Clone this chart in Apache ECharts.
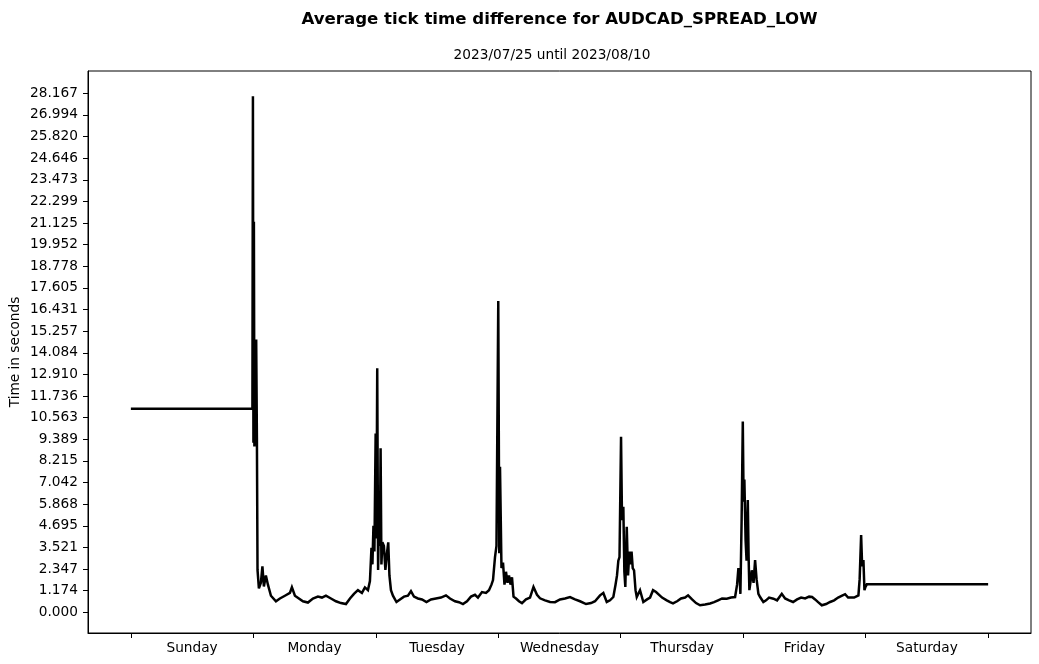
<!DOCTYPE html>
<html>
<head>
<meta charset="utf-8">
<script src="https://cdn.jsdelivr.net/npm/echarts@6/dist/echarts.min.js"></script>
<style>html,body{margin:0;padding:0;background:#fff}#c{width:1039px;height:664px}</style>
</head>
<body>
<div id="c"></div>
<script>
const chartTitle = 'Average tick time difference for AUDCAD_SPREAD_LOW';
const chartSubtitle = '2023/07/25 until 2023/08/10';
const dayNames = ['Sunday','Monday','Tuesday','Wednesday','Thursday','Friday','Saturday'];
const dayBoundaryHours = [0,24,48,72,96,120,144,168];
const dayCenterHours = [12,36,60,84,108,132,156];
const yTickLabels = ['0.000','1.174','2.347','3.521','4.695','5.868','7.042','8.215','9.389','10.563','11.736','12.910','14.084','15.257','16.431','17.605','18.778','19.952','21.125','22.299','23.473','24.646','25.820','26.994','28.167'];

// hour of week (Sunday 00:00 = 0)
const hourOfWeek = [
  0, 23.82, 23.92, 24.02, 24.11, 24.21, 24.31, 24.40, 24.56, 24.70, 24.82,
  25.09, 25.48, 25.78, 26.07, 26.46, 26.86, 27.45, 28.43, 29.21, 30.19,
  31.17, 31.56, 32.15, 32.93, 33.72, 34.70, 35.68, 36.66, 37.44, 38.23,
  39.21, 40.19, 41.17, 42.15, 42.94, 43.72, 44.50, 45.28, 45.87, 46.46,
  46.85, 47.15, 47.34, 47.54, 47.73, 47.97, 48.12, 48.28, 48.45, 48.61,
  48.80, 48.94, 49.10, 49.29, 49.59, 49.88, 50.18, 50.44, 50.67, 50.97,
  51.36, 52.05, 52.74, 53.52, 54.30, 54.89, 55.48, 56.26, 57.05, 57.93,
  58.81, 59.79, 60.77, 61.75, 62.54, 63.52, 64.30, 65.08, 65.87, 66.65,
  67.44, 68.02, 68.81, 69.59, 70.18, 70.67, 70.97, 71.36, 71.65, 72.00,
  72.20, 72.34, 72.63, 72.93, 73.22, 73.51, 73.81, 74.10, 74.40, 74.69,
  74.99, 75.48, 76.06, 76.65, 77.43, 78.22, 78.90, 79.59, 80.18, 81.16,
  82.14, 83.12, 84.10, 85.08, 86.06, 87.04, 88.02, 89.20, 90.18, 90.96,
  91.94, 92.59, 93.26, 93.90, 94.55, 94.98, 95.27, 95.53, 95.76, 96.06,
  96.25, 96.51, 96.71, 96.90, 97.18, 97.43, 97.69, 97.92, 98.12, 98.35,
  98.61, 98.90, 99.14, 99.78, 100.43, 101.16, 101.75, 102.33, 102.92, 103.31,
  104.10, 105.02, 105.67, 106.25, 107.04, 107.82, 108.61, 109.20, 109.98, 110.76,
  111.55, 112.53, 113.51, 114.29, 115.08, 115.86, 116.78, 117.62, 118.41, 118.80,
  119.06, 119.29, 119.45, 119.69, 119.92, 120.08, 120.23, 120.47, 120.66, 120.90,
  121.06, 121.21, 121.45, 121.68, 122.03, 122.33, 122.62, 122.98, 123.31, 123.95,
  124.48, 125.07, 125.92, 126.64, 127.56, 128.21, 128.99, 129.78, 130.56, 131.35,
  132.13, 132.92, 133.50, 134.09, 134.68, 135.40, 136.25, 137.03, 137.82, 138.60,
  139.38, 139.97, 140.56, 140.95, 141.74, 142.58, 142.82, 143.11, 143.31, 143.56,
  143.76, 143.96, 144.23, 168
];
// average tick time difference in seconds
const avgTickSeconds = [
  11.05, 11.05, 28.0, 9.2, 21.2, 9.0, 14.0, 9.1, 14.8, 9.5, 2.3,
  1.3, 1.6, 2.5, 1.4, 2.0, 1.5, 0.9, 0.6, 0.75, 0.9,
  1.05, 1.36, 0.9, 0.75, 0.6, 0.53, 0.75, 0.85, 0.8, 0.9,
  0.75, 0.6, 0.5, 0.45, 0.75, 1.0, 1.2, 1.05, 1.35, 1.2,
  1.7, 3.5, 2.6, 4.7, 3.3, 9.7, 4.0, 13.25, 2.3, 5.0,
  3.6, 8.9, 2.6, 3.8, 3.6, 2.3, 3.2, 3.8, 2.0, 1.2,
  0.9, 0.56, 0.7, 0.85, 0.9, 1.15, 0.85, 0.75, 0.7, 0.56,
  0.7, 0.75, 0.8, 0.92, 0.75, 0.6, 0.55, 0.45, 0.6, 0.85,
  0.95, 0.8, 1.1, 1.05, 1.2, 1.5, 1.75, 3.0, 3.6, 16.9,
  3.2, 7.9, 2.4, 2.7, 1.5, 2.2, 1.6, 2.0, 1.5, 1.9,
  0.85, 0.75, 0.6, 0.5, 0.7, 0.8, 1.38, 0.95, 0.76, 0.65,
  0.56, 0.55, 0.7, 0.75, 0.83, 0.7, 0.6, 0.45, 0.5, 0.6,
  0.92, 1.05, 0.56, 0.65, 0.83, 1.5, 2.0, 2.8, 3.0, 9.53,
  5.0, 5.73, 2.2, 1.38, 4.64, 2.0, 3.3, 2.6, 3.3, 2.4,
  2.28, 1.2, 0.83, 1.2, 0.56, 0.7, 0.8, 1.2, 1.1, 1.0,
  0.8, 0.65, 0.55, 0.48, 0.6, 0.75, 0.8, 0.92, 0.7, 0.5,
  0.38, 0.42, 0.48, 0.55, 0.65, 0.75, 0.74, 0.8, 0.83, 1.5,
  2.4, 2.0, 1.0, 5.0, 10.35, 6.0, 7.2, 3.9, 2.8, 6.1,
  3.0, 1.2, 1.7, 2.28, 1.6, 2.83, 1.8, 1.0, 0.83, 0.56,
  0.65, 0.8, 0.74, 0.65, 1.0, 0.75, 0.65, 0.56, 0.7, 0.8,
  0.75, 0.85, 0.83, 0.7, 0.55, 0.38, 0.45, 0.56, 0.65, 0.8,
  0.9, 0.98, 0.8, 0.74, 0.8, 0.92, 1.8, 4.19, 2.5, 2.83,
  1.2, 1.38, 1.52, 1.52
];

const yTickValues = yTickLabels.map(Number);
const seriesData = hourOfWeek.map((h, i) => [h, avgTickSeconds[i]]);
const FONT = 'DejaVu Sans';

const chart = echarts.init(document.getElementById('c'), null, {renderer: 'canvas'});
chart.setOption({
  animation: false,
  backgroundColor: '#ffffff',
  textStyle: {fontFamily: FONT},
  title: [
    {text: chartTitle, left: 554.5, top: 5, textAlign: 'center', textStyle: {fontFamily: FONT, fontSize: 16.6, fontWeight: 'bold', color: '#000', lineHeight: 20}},
    {text: chartSubtitle, left: 547, top: 42, textAlign: 'center', textStyle: {fontFamily: FONT, fontSize: 13.7, fontWeight: 'normal', color: '#000', lineHeight: 16}}
  ],
  grid: {left: 88, right: 8, top: 71, bottom: 31, show: true, borderColor: '#000', borderWidth: 1, backgroundColor: 'transparent', outerBoundsMode: 'none', containLabel: false},
  xAxis: {
    type: 'value', min: -8.4, max: 176.4,
    axisLine: {show: true, onZero: false, lineStyle: {color: '#000', width: 1}},
    axisTick: {show: true, inside: false, length: 5, lineStyle: {color: '#000', width: 1}, customValues: dayBoundaryHours},
    axisLabel: {show: true, margin: 8, fontFamily: FONT, fontSize: 13.7, color: '#000', customValues: dayCenterHours,
      formatter: v => dayNames[Math.round((v - 12) / 24)] || ''},
    splitLine: {show: false}
  },
  yAxis: {
    type: 'value', min: -1.123, max: 29.377,
    name: 'Time in seconds', nameLocation: 'middle', nameRotate: 90, nameGap: 66, nameMoveOverlap: false,
    nameTextStyle: {fontFamily: FONT, fontSize: 13.7, color: '#000'},
    axisLine: {show: true, onZero: false, lineStyle: {color: '#000', width: 1}},
    axisTick: {show: true, inside: false, length: 5, lineStyle: {color: '#000', width: 1}, customValues: yTickValues},
    axisLabel: {show: true, margin: 10, fontFamily: FONT, fontSize: 13.7, color: '#000', customValues: yTickValues,
      formatter: v => v.toFixed(3)},
    splitLine: {show: false}
  },
  series: [{
    type: 'line', data: seriesData, showSymbol: false, symbol: 'none',
    lineStyle: {color: '#000', width: 2.5, join: 'miter', miterLimit: 4}, itemStyle: {color: '#000'}, clip: true
  }]
});
</script>
</body>
</html>
